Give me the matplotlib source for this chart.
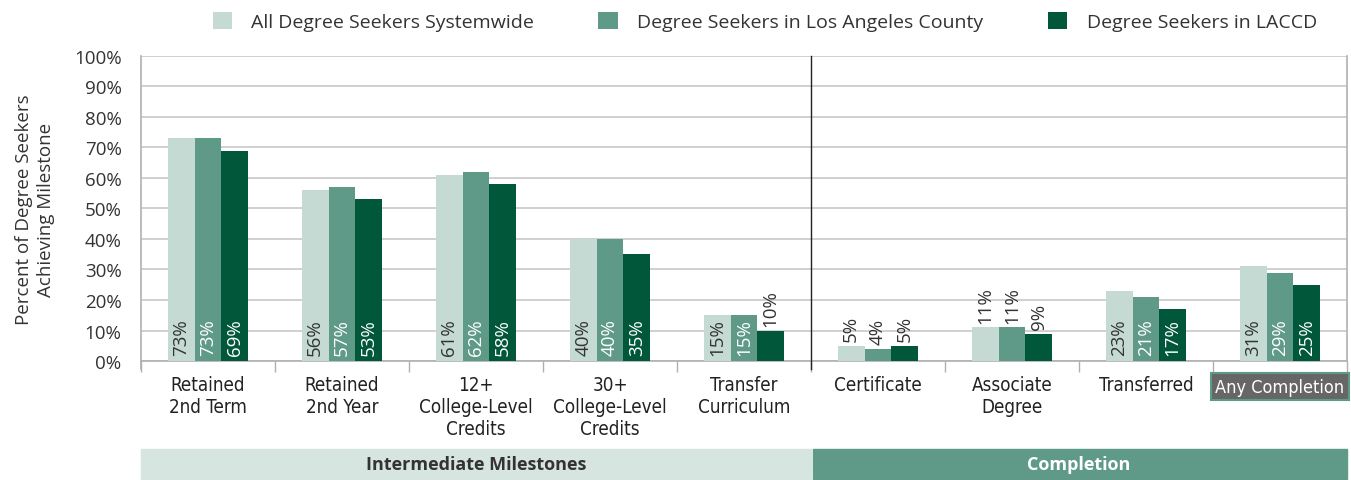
import matplotlib.pyplot as plt
import matplotlib.patches as mpatches
import numpy as np

# data
categories = ["Retained\n2nd Term", "Retained\n2nd Year", "12+\nCollege-Level\nCredits",
              "30+\nCollege-Level\nCredits", "Transfer\nCurriculum", "Certificate",
              "Associate\nDegree", "Transferred", "Any Completion"]
series_names = ["All Degree Seekers Systemwide", "Degree Seekers in Los Angeles County",
                "Degree Seekers in LACCD"]
systemwide = [73, 56, 61, 40, 15, 5, 11, 23, 31]
la_county = [73, 57, 62, 40, 15, 4, 11, 21, 29]
laccd = [69, 53, 58, 35, 10, 5, 9, 17, 25]
groups = ["Intermediate Milestones", "Completion"]
group_sizes = [5, 4]

colors = ["#c5dad3", "#5e9a87", "#00573a"]
label_colors = ["#333333", "white", "white"]
text_font = ["Open Sans", "DejaVu Sans"]
narrow_font = ["DejaVu Sans"]

fig = plt.figure(figsize=(13.51, 4.81), dpi=100)
ax = fig.add_axes([0.1044, 0.2474, 0.8926, 0.6341])

x = np.arange(len(categories))
w = 0.2
all_series = [systemwide, la_county, laccd]
for i, vals in enumerate(all_series):
    xs = x + (i - 1) * w
    ax.bar(xs, vals, width=w, color=colors[i], label=series_names[i], zorder=3)
    for xi, v in zip(xs, vals):
        if v >= 15:
            ax.text(xi, 2.0, f"{v}%", rotation=90, ha="center", va="bottom",
                    color=label_colors[i], fontsize=13.5, family=text_font, zorder=4)
        else:
            ax.text(xi, v + 1.5, f"{v}%", rotation=90, ha="center", va="bottom",
                    color="#333333", fontsize=13.5, family=text_font, zorder=4)

ax.set_xlim(-0.5, len(categories) - 0.5)
ax.set_ylim(0, 100)
ax.set_yticks(np.arange(0, 101, 10))
ax.set_yticklabels([f"{t}%" for t in range(0, 101, 10)], fontsize=13.5, family=text_font,
                   color="#333333")
ax.grid(axis="y", color="#c8c8c8", linewidth=1.2, zorder=0)
ax.tick_params(axis="y", length=0, pad=14)

# x ticks at category boundaries
ax.set_xticks(np.arange(-0.5, len(categories), 1.0), minor=False)
ax.set_xticklabels([])
ax.tick_params(axis="x", length=8, width=1, color="#b0b0b0")
ax.set_xticks(x, minor=True)
ax.set_xticklabels(categories[:-1] + [""], minor=True, fontsize=13.5, family=narrow_font,
                   fontstretch="condensed", color="#222222", linespacing=1.2)
ax.tick_params(axis="x", which="minor", length=0, pad=10)
ax.text(x[-1], -5.5, categories[-1], ha="center", va="top", fontsize=13, family=narrow_font,
        fontstretch="condensed", color="white", transform=ax.transData, clip_on=False,
        bbox=dict(boxstyle="square,pad=0.25", facecolor="#666666", edgecolor="#5e9a87", lw=1.5))

ax.spines["top"].set_visible(False)
for s in ["left", "right", "bottom"]:
    ax.spines[s].set_color("#b0b0b0")
    ax.spines[s].set_linewidth(1.2)
ax.spines["left"].set_bounds(-2.5, 100)

# divider between groups
ax.plot([group_sizes[0] - 0.5] * 2, [-2.5, 100], color="#222222", lw=1, clip_on=False, zorder=5)

ax.set_ylabel("Percent of Degree Seekers\nAchieving Milestone", fontsize=13.5, family=text_font,
              color="#333333", labelpad=14, linespacing=1.25)

# group bands at bottom
band_left = 0.1044
band_right = 0.9970
split = band_left + (band_right - band_left) * group_sizes[0] / len(categories)
fig.patches.append(mpatches.Rectangle((band_left, 0.002), split - band_left, 0.062,
                                      transform=fig.transFigure, color="#d6e5e0"))
fig.patches.append(mpatches.Rectangle((split + 0.0015, 0.002), band_right - split - 0.0015, 0.062,
                                      transform=fig.transFigure, color="#5e9a87"))
fig.text((band_left + split) / 2, 0.033, groups[0], ha="center", va="center", fontsize=13,
         fontweight="bold", family=text_font, color="#333333")
fig.text((split + band_right) / 2, 0.033, groups[1], ha="center", va="center", fontsize=13,
         fontweight="bold", family=text_font, color="white")

leg = fig.legend(loc="center", bbox_to_anchor=(0.566, 0.953), ncol=3, frameon=False,
                 prop={"family": text_font, "size": 14}, handlelength=1.0, handleheight=1.0,
                 columnspacing=3.3, handletextpad=1.0)
for t in leg.get_texts():
    t.set_color("#333333")

fig.savefig("out.png", dpi=100)
